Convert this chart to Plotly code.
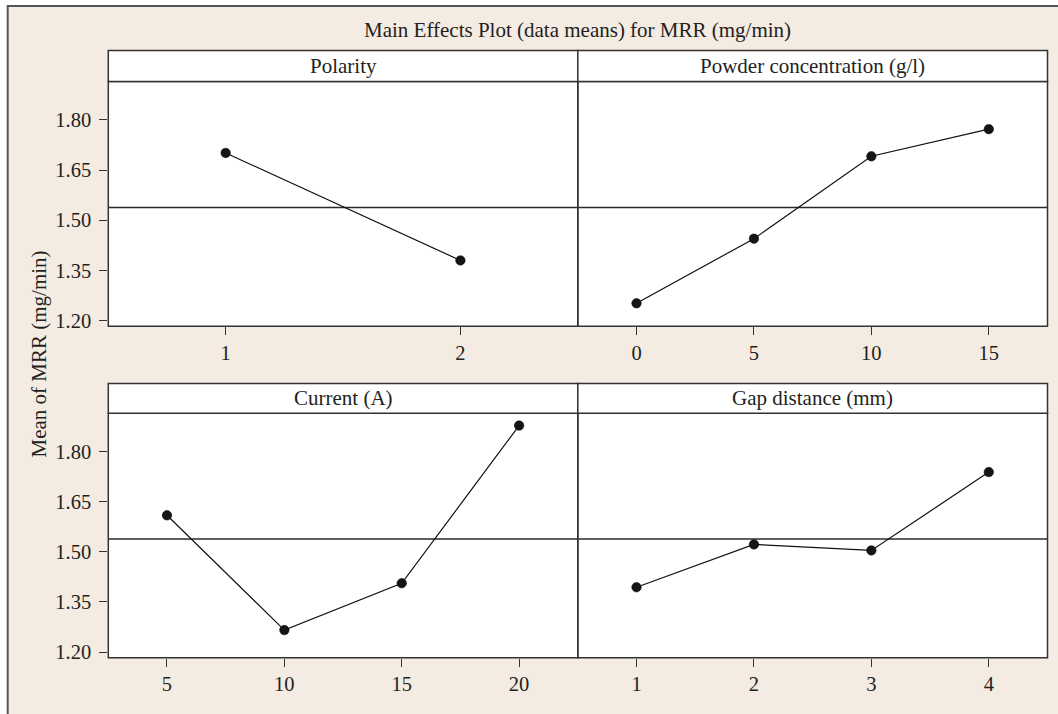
import plotly.graph_objects as go

# ---- data ----
polarity_levels = [1, 2]
polarity_means = [1.701, 1.380]
powder_levels = [0, 5, 10, 15]
powder_means = [1.252, 1.445, 1.691, 1.772]
current_levels = [5, 10, 15, 20]
current_means = [1.609, 1.266, 1.406, 1.877]
gap_levels = [1, 2, 3, 4]
gap_means = [1.394, 1.522, 1.504, 1.738]
grand_mean = 1.538
y_ticks = [1.20, 1.35, 1.50, 1.65, 1.80]
y_tick_labels = ["1.20", "1.35", "1.50", "1.65", "1.80"]
panel_titles = ["Polarity", "Powder concentration (g/l)", "Current (A)", "Gap distance (mm)"]
main_title = "Main Effects Plot (data means) for MRR (mg/min)"
y_title = "Mean of MRR (mg/min)"

W, H = 1058, 714
FONT = "Liberation Serif"
FS_T = 21
FS_K = 20.5
TXT = "#231f20"
FRAME = "#333333"
BEIGE = "#f4ebe2"

def px(x):
    return x / W

def py(y):
    return 1 - y / H

xl, xm, xr = px(108.3), px(577.8), px(1047.5)
top_plot = [py(329), py(82.3)]
bot_plot = [py(663.3), py(416.7)]
top_strip_top = py(51)
bot_strip_top = py(386.7)

fig = go.Figure()

panels = [
    (polarity_levels, polarity_means, [xl, xm], top_plot, [0.5, 2.5], True),
    (powder_levels, powder_means, [xm, xr], top_plot, [-2.5, 17.5], False),
    (current_levels, current_means, [xl, xm], bot_plot, [2.5, 22.5], True),
    (gap_levels, gap_means, [xm, xr], bot_plot, [0.5, 4.5], False),
]
yr = [1.1835, 1.914]

for i, (lv, mv, xd, yd, xrng, left) in enumerate(panels):
    n = i + 1
    xa = "x" if n == 1 else f"x{n}"
    ya = "y" if n == 1 else f"y{n}"
    fig.add_trace(go.Scatter(
        x=xrng, y=[grand_mean, grand_mean], xaxis=xa, yaxis=ya, mode="lines",
        line=dict(color="#2a2a2a", width=1.4), showlegend=False, hoverinfo="skip",
        cliponaxis=True))
    fig.add_trace(go.Scatter(
        x=lv, y=mv, xaxis=xa, yaxis=ya, mode="lines+markers",
        line=dict(color="#111111", width=1.2),
        marker=dict(color="#151515", size=9.5, line=dict(color="#000", width=0.5)),
        showlegend=False, cliponaxis=False))
    xkey = "xaxis" if n == 1 else f"xaxis{n}"
    ykey = "yaxis" if n == 1 else f"yaxis{n}"
    fig.layout[xkey] = dict(
        domain=xd, range=xrng, anchor=ya, tickmode="array", tickvals=lv,
        ticktext=[str(v) for v in lv], ticks="outside", ticklen=8, tickwidth=1,
        tickcolor=FRAME, showline=False, showgrid=False, zeroline=False,
        tickfont=dict(family=FONT, size=FS_K, color=TXT))
    fig.layout[ykey] = dict(
        domain=yd, range=yr, anchor=xa, tickmode="array", tickvals=y_ticks,
        ticktext=y_tick_labels, ticks="outside" if left else "", ticklen=8,
        tickwidth=1, tickcolor=FRAME, showticklabels=left, showline=False,
        showgrid=False, zeroline=False, ticklabelstandoff=4,
        tickfont=dict(family=FONT, size=FS_K, color=TXT))

shapes = [
    dict(type="rect", xref="paper", yref="paper", x0=px(7.7), x1=1.2,
         y0=-0.2, y1=py(6), fillcolor=BEIGE, line=dict(color="#555555", width=2),
         layer="below"),
]
plot_boxes = [
    ([xl, xm], top_plot), ([xm, xr], top_plot),
    ([xl, xm], bot_plot), ([xm, xr], bot_plot),
]
for xd, yd in plot_boxes:
    shapes.append(dict(type="rect", xref="paper", yref="paper", x0=xd[0], x1=xd[1],
                       y0=yd[0], y1=yd[1], fillcolor="white",
                       line=dict(width=0), layer="below"))
for xd, yd in plot_boxes:
    shapes.append(dict(type="rect", xref="paper", yref="paper", x0=xd[0], x1=xd[1],
                       y0=yd[0], y1=yd[1], fillcolor="rgba(0,0,0,0)",
                       line=dict(color=FRAME, width=1.5), layer="above"))
strips = [
    ([xl, xm], top_plot[1], top_strip_top),
    ([xm, xr], top_plot[1], top_strip_top),
    ([xl, xm], bot_plot[1], bot_strip_top),
    ([xm, xr], bot_plot[1], bot_strip_top),
]
annotations = []
for (xd, y0, y1), t in zip(strips, panel_titles):
    shapes.append(dict(type="rect", xref="paper", yref="paper", x0=xd[0], x1=xd[1],
                       y0=y0, y1=y1, fillcolor="white",
                       line=dict(color=FRAME, width=1.5), layer="above"))
    annotations.append(dict(text=t, xref="paper", yref="paper", x=(xd[0] + xd[1]) / 2,
                            y=(y0 + y1) / 2, showarrow=False, xanchor="center",
                            yanchor="middle",
                            font=dict(family=FONT, size=FS_T, color=TXT)))
annotations.append(dict(text=main_title, xref="paper", yref="paper", x=px(577.8),
                        y=py(30.7), showarrow=False, xanchor="center", yanchor="middle",
                        font=dict(family=FONT, size=FS_T, color=TXT)))
annotations.append(dict(text=y_title, xref="paper", yref="paper", x=px(39),
                        y=py(357.5), showarrow=False, textangle=-90, xanchor="center",
                        yanchor="middle", font=dict(family=FONT, size=FS_K + 0.5, color=TXT)))

fig.update_layout(
    width=W, height=H, margin=dict(l=0, r=0, t=0, b=0),
    paper_bgcolor="white", plot_bgcolor="white",
    shapes=shapes, annotations=annotations, showlegend=False,
)

fig.write_html("out.html", config={"displayModeBar": False},
               post_script="document.body.style.margin='0';document.body.style.overflow='hidden';")
